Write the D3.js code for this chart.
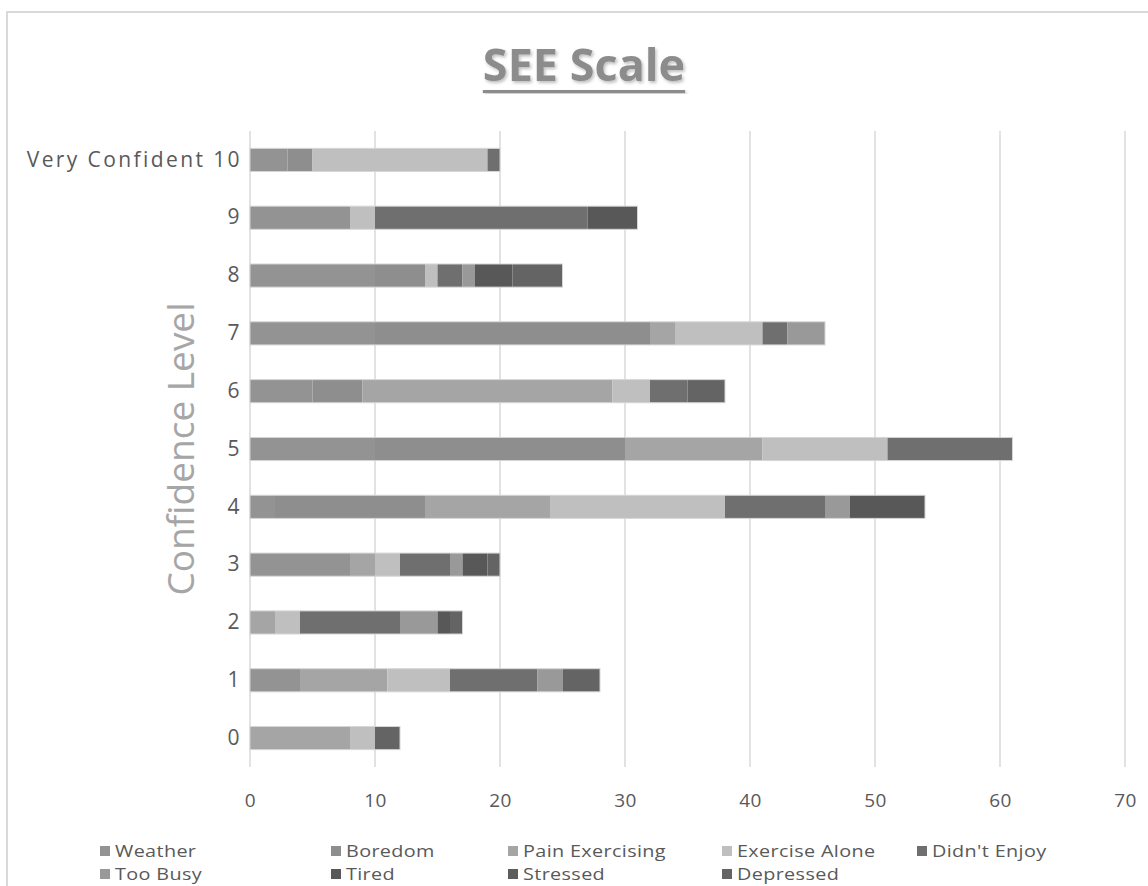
<!DOCTYPE html>
<html>
<head>
<meta charset="utf-8">
<script src="https://cdn.jsdelivr.net/npm/d3@7"></script>
<style>
  html, body { margin: 0; padding: 0; background: #fff; }
  svg { display: block; }
</style>
</head>
<body>
<svg id="chart" width="1148" height="886"></svg>
<script>
// Confidence levels, bottom to top
const categories = ["0", "1", "2", "3", "4", "5", "6", "7", "8", "9", "10"];
const categoryLabels = ["0", "1", "2", "3", "4", "5", "6", "7", "8", "9", "Very Confident 10"];

// Barrier counts per confidence level (index = level 0..10)
const seriesNames = ["Weather", "Boredom", "Pain Exercising", "Exercise Alone", "Didn't Enjoy",
                     "Too Busy", "Tired", "Stressed", "Depressed"];
const weather        = [0, 4, 0, 8, 2, 10, 5, 10, 10, 8, 3];
const boredom        = [0, 0, 0, 0, 12, 20, 4, 22, 4, 0, 2];
const painExercising = [8, 7, 2, 2, 10, 11, 20, 2, 0, 0, 0];
const exerciseAlone  = [2, 5, 2, 2, 14, 10, 3, 7, 1, 2, 14];
const didntEnjoy     = [0, 7, 8, 4, 8, 10, 3, 2, 2, 17, 1];
const tooBusy        = [0, 2, 3, 1, 2, 0, 0, 3, 1, 0, 0];
const tired          = [0, 0, 1, 2, 6, 0, 0, 0, 3, 4, 0];
const stressed       = [0, 0, 0, 0, 0, 0, 0, 0, 0, 0, 0];
const depressed      = [2, 3, 1, 1, 0, 0, 3, 0, 4, 0, 0];
const xTicks = [0, 10, 20, 30, 40, 50, 60, 70];

const seriesValues = [weather, boredom, painExercising, exerciseAlone, didntEnjoy,
                      tooBusy, tired, stressed, depressed];
const colors = ["#939393", "#8e8e8e", "#a5a5a5", "#bfbfbf", "#6f6f6f",
                "#999999", "#585858", "#5c5c5c", "#646464"];

const rows = categories.map((c, i) => {
  const r = { cat: c };
  seriesNames.forEach((s, k) => { r[s] = seriesValues[k][i]; });
  return r;
});

const svg = d3.select("#chart");
const font = "'Open Sans', 'Noto Sans', sans-serif";

// chart frame
svg.append("rect").attr("x", 7).attr("y", 12).attr("width", 1160).attr("height", 900)
  .attr("fill", "none").attr("stroke", "#d9d9d9").attr("stroke-width", 2);

const plot = { left: 250, right: 1125, top: 131, bottom: 767 };

const x = d3.scaleLinear().domain([0, 70]).range([plot.left, plot.right]);
const y = d3.scaleBand().domain(categories.slice().reverse())
  .range([plot.top, plot.bottom]).paddingInner(0.6).paddingOuter(0.3);

// gridlines
svg.append("g").selectAll("line").data(xTicks).join("line")
  .attr("x1", d => x(d)).attr("x2", d => x(d))
  .attr("y1", plot.top).attr("y2", plot.bottom)
  .attr("stroke", "#d9d9d9").attr("stroke-width", 1.5);

// stacked bars
const stack = d3.stack().keys(seriesNames)(rows);
const layers = svg.append("g").selectAll("g").data(stack).join("g")
  .attr("fill", (d, i) => colors[i]);
layers.selectAll("rect").data(d => d).join("rect")
  .attr("x", d => x(d[0]))
  .attr("y", d => y(d.data.cat))
  .attr("width", d => x(d[1]) - x(d[0]))
  .attr("height", y.bandwidth());

// faint outline around each bar
svg.append("g").selectAll("rect").data(rows).join("rect")
  .attr("x", x(0))
  .attr("y", d => y(d.cat))
  .attr("width", d => x(d3.sum(seriesNames, s => d[s])) - x(0))
  .attr("height", y.bandwidth())
  .attr("fill", "none").attr("stroke", "#d6d6d6").attr("stroke-width", 1);

// x axis labels
const xAxis = d3.axisBottom(x).tickValues(xTicks).tickSize(0).tickPadding(0);
const gx = svg.append("g").attr("transform", `translate(0,${plot.bottom + 40})`).call(xAxis);
gx.select(".domain").remove();
gx.selectAll("text").attr("font-family", font).attr("font-size", 19)
  .attr("letter-spacing", 0.5)
  .attr("fill", "#595959").attr("dy", 0);

// y axis labels
const yAxis = d3.axisLeft(y).tickSize(0).tickPadding(8)
  .tickFormat(d => categoryLabels[categories.indexOf(d)]);
const gy = svg.append("g").attr("transform", `translate(${plot.left},0)`).call(yAxis);
gy.select(".domain").remove();
gy.selectAll("text").attr("font-family", font).attr("font-size", 21)
  .attr("letter-spacing", 2.4)
  .attr("fill", "#595959");

// y axis title
svg.append("text")
  .attr("transform", `translate(194,${(plot.top + plot.bottom) / 2}) rotate(-90)`)
  .attr("text-anchor", "middle")
  .attr("font-family", font).attr("font-size", 37).attr("fill", "#a6a6a6")
  .text("Confidence Level");

// title with soft shadow and underline
const defs = svg.append("defs");
const f = defs.append("filter").attr("id", "shadow").attr("x", "-10%").attr("y", "-30%")
  .attr("width", "120%").attr("height", "160%");
f.append("feDropShadow").attr("dx", 1.5).attr("dy", 2).attr("stdDeviation", 1.5)
  .attr("flood-color", "#000").attr("flood-opacity", 0.25);

const title = svg.append("text")
  .attr("x", 584).attr("y", 81)
  .attr("text-anchor", "middle")
  .attr("font-family", font).attr("font-weight", 700).attr("font-size", 45)
  .attr("fill", "#8c8c8c").attr("filter", "url(#shadow)")
  .text("SEE Scale");
const tb = title.node().getBBox();
svg.append("rect").attr("x", tb.x).attr("y", 90).attr("width", tb.width).attr("height", 3)
  .attr("fill", "#8c8c8c").attr("filter", "url(#shadow)");

// legend: two rows, text widened horizontally to keep rows compact
const legendPos = [
  [100, 851], [331, 851], [508, 851], [722, 851], [917, 851],
  [100, 874], [331, 874], [508, 874], [722, 874]
];
const lg = svg.append("g").selectAll("g").data(seriesNames).join("g")
  .attr("transform", (d, i) => `translate(${legendPos[i][0]},${legendPos[i][1]})`);
lg.append("rect").attr("x", 0).attr("y", -5).attr("width", 10).attr("height", 10)
  .attr("fill", (d, i) => colors[i]);
lg.append("text")
  .attr("transform", "translate(15,0) scale(1.2,1)")
  .attr("dy", "0.35em")
  .attr("font-family", font).attr("font-size", 16.5).attr("fill", "#595959")
  .attr("letter-spacing", 0.3)
  .text(d => d);
</script>
</body>
</html>
